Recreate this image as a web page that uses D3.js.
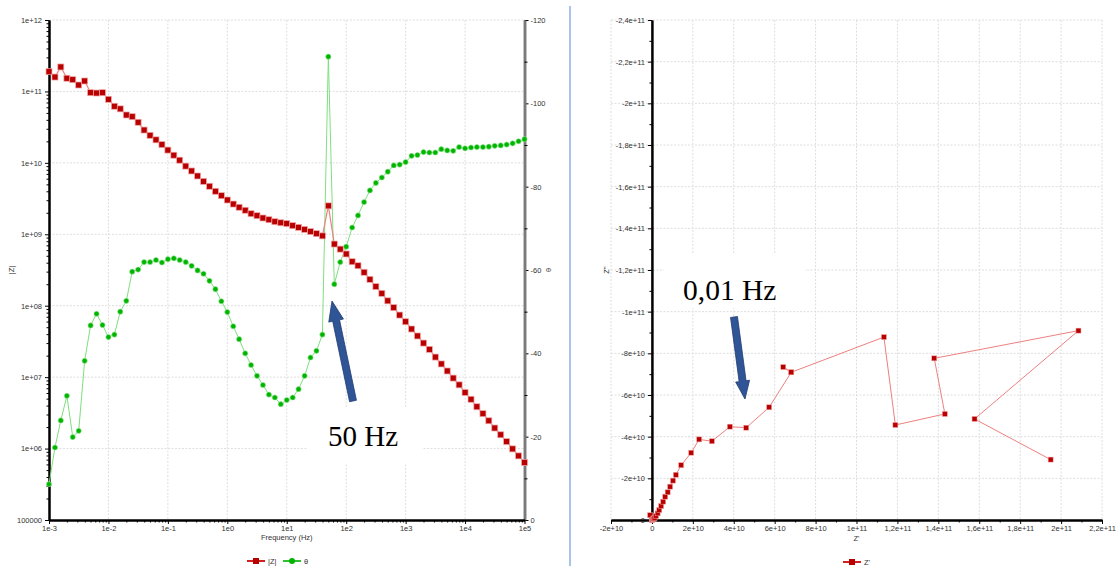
<!DOCTYPE html>
<html>
<head>
<meta charset="utf-8">
<script src="https://cdn.jsdelivr.net/npm/d3@7"></script>
<style>
body{margin:0;background:#fff;}
text{font-family:"Liberation Sans",Arial,sans-serif;}
</style>
</head>
<body>
<div id="chart"></div>
<script>
/////////////////////////////////////////////////////////////////
//////////////////////////// data ///////////////////////////////
/////////////////////////////////////////////////////////////////
var freq = [0.001,0.00126,0.00158,0.002,0.00251,0.00316,0.00398,0.00501,0.00631,0.00794,
	0.01,0.0126,0.0158,0.02,0.0251,0.0316,0.0398,0.0501,0.0631,0.0794,
	0.1,0.126,0.158,0.2,0.251,0.316,0.398,0.501,0.631,0.794,
	1,1.26,1.58,2,2.51,3.16,3.98,5.01,6.31,7.94,
	10,12.6,15.8,20,25.1,31.6,39.8,50.1,63.1,79.4,
	100,126,158,200,251,316,398,501,631,794,
	1000,1260,1580,2000,2510,3160,3980,5010,6310,7940,
	10000,12600,15800,20000,25100,31600,39800,50100,63100,79400,
	100000];

var zMag = [1.89e11,1.59e11,2.2e11,1.53e11,1.46e11,1.23e11,1.4e11,9.6e10,9.5e10,9.6e10,
	7.76e10,6.2e10,5.7e10,4.68e10,4.43e10,3.7e10,2.88e10,2.43e10,2.1e10,1.8e10,
	1.51e10,1.28e10,1.09e10,9.0e9,7.7e9,6.55e9,5.5e9,4.7e9,4.0e9,3.47e9,
	3.02e9,2.65e9,2.39e9,2.17e9,1.94e9,1.82e9,1.69e9,1.6e9,1.5e9,1.45e9,
	1.41e9,1.32e9,1.25e9,1.17e9,1.09e9,1.02e9,9.5e8,2.5e9,7.3e8,6.2e8,
	5.3e8,4.13e8,3.63e8,2.94e8,2.34e8,1.85e8,1.49e8,1.17e8,9.4e7,7.4e7,
	5.97e7,4.72e7,3.77e7,3.0e7,2.45e7,1.91e7,1.53e7,1.22e7,9.7e6,7.8e6,
	6.1e6,4.9e6,3.85e6,3.08e6,2.45e6,1.94e6,1.56e6,1.25e6,9.9e5,7.9e5,
	6.4e5];

var theta = [-8.6,-17.4,-23.9,-29.8,-19.9,-21.4,-38.2,-46.7,-49.5,-46.8,
	-43.9,-44.5,-50.0,-52.6,-59.6,-60.1,-61.9,-61.9,-62.4,-61.8,
	-62.6,-62.8,-62.4,-61.9,-61.0,-59.9,-59.1,-57.4,-55.4,-52.5,
	-49.9,-46.5,-43.4,-40.0,-37.2,-34.6,-32.4,-30.1,-29.4,-27.8,
	-28.8,-29.4,-31.4,-34.6,-39.0,-40.6,-44.5,-111.2,-56.6,-61.9,
	-65.6,-70.2,-73.1,-76.3,-79.1,-80.9,-82.2,-83.6,-85.1,-85.3,
	-85.9,-87.4,-87.6,-88.3,-88.2,-88.2,-89.0,-88.7,-88.6,-89.5,
	-89.2,-89.4,-89.5,-89.5,-89.6,-89.8,-89.9,-90.1,-90.4,-90.9,
	-91.4];

// Nyquist, high frequency (origin) -> low frequency
var nyqRe = [0,0.01e10,0.02e10,0.04e10,-0.09e10,0.07e10,0.10e10,0.13e10,0.20e10,0.28e10,
	0.36e10,0.45e10,0.55e10,0.65e10,0.77e10,0.89e10,1.03e10,1.17e10,1.43e10,1.92e10,
	2.31e10,2.93e10,3.81e10,4.61e10,5.73e10,6.81e10,6.42e10,6.81e10,11.34e10,11.9e10,
	14.32e10,13.8e10,20.85e10,15.77e10,19.49e10];
var nyqIm = [0,-0.01e10,-0.03e10,-0.06e10,-0.23e10,-0.07e10,-0.06e10,-0.10e10,-0.19e10,-0.32e10,
	-0.48e10,-0.67e10,-0.88e10,-1.12e10,-1.33e10,-1.60e10,-1.89e10,-2.17e10,-2.63e10,-3.23e10,
	-3.87e10,-3.78e10,-4.48e10,-4.43e10,-5.41e10,-7.09e10,-7.34e10,-7.09e10,-8.78e10,-4.56e10,
	-5.09e10,-7.76e10,-9.09e10,-4.85e10,-2.90e10];

var freqTicks = [1e-3,1e-2,1e-1,1,10,100,1e3,1e4,1e5];
var freqTickLabels = ["1e-3","1e-2","1e-1","1e0","1e1","1e2","1e3","1e4","1e5"];
var zTicks = [1e5,1e6,1e7,1e8,1e9,1e10,1e11,1e12];
var zTickLabels = ["100000","1e+06","1e+07","1e+08","1e+09","1e+10","1e+11","1e+12"];
var thetaTicks = [0,-20,-40,-60,-80,-100,-120];
var thetaTickLabels = ["0","-20","-40","-60","-80","-100","-120"];
var reTicks = [-2e10,0,2e10,4e10,6e10,8e10,1e11,1.2e11,1.4e11,1.6e11,1.8e11,2e11,2.2e11];
var reTickLabels = ["-2e+10","0","2e+10","4e+10","6e+10","8e+10","1e+11","1,2e+11","1,4e+11","1,6e+11","1,8e+11","2e+11","2,2e+11"];
var imTicks = [0,-2e10,-4e10,-6e10,-8e10,-1e11,-1.2e11,-1.4e11,-1.6e11,-1.8e11,-2e11,-2.2e11,-2.4e11];
var imTickLabels = ["0","-2e+10","-4e+10","-6e+10","-8e+10","-1e+11","-1,2e+11","-1,4e+11","-1,6e+11","-1,8e+11","-2e+11","-2,2e+11","-2,4e+11"];

/////////////////////////////////////////////////////////////////
/////////////////////////// layout //////////////////////////////
/////////////////////////////////////////////////////////////////
var W = 1119, H = 566;
var bode = {left:49, right:524.5, top:20, bottom:520};
var nyq = {left:611, right:1102, top:20, bottom:520};
var fontSize = 7.5;
var redDark = "#b80000", redLine = "#ee8080", greenDark = "#00b400", greenLine = "#7ee07e";
var gridColor = "#dedede";
var serif = "'Liberation Serif', 'Times New Roman', serif";

var svg = d3.select("#chart").append("svg")
	.attr("width", W).attr("height", H)
	.style("background", "#fff");

var xF = d3.scaleLog().domain([1e-3,1e5]).range([bode.left, bode.right]);
var yZ = d3.scaleLog().domain([1e5,1e12]).range([bode.bottom, bode.top]);
var yT = d3.scaleLinear().domain([0,-120]).range([bode.bottom, bode.top]);
var xN = d3.scaleLinear().domain([-2e10,2.2e11]).range([nyq.left, nyq.right]);
var yN = d3.scaleLinear().domain([0,-2.4e11]).range([nyq.bottom, nyq.top]);

function logMinor(decades){
	var out = [];
	decades.slice(0,-1).forEach(function(d){
		for(var k=2;k<10;k++) out.push(d*k);
	});
	return out;
}
function midTicks(t){
	var out = [];
	for(var i=0;i<t.length-1;i++) out.push((t[i]+t[i+1])/2);
	return out;
}

function styleAxis(g, color, width){
	g.attr("font-size", fontSize);
	g.select(".domain").attr("stroke", color).attr("stroke-width", width);
	g.selectAll(".tick line").attr("stroke", "#000");
	g.selectAll(".tick text").attr("fill", "#333");
}

/////////////////////////////////////////////////////////////////
///////////////////////////// grid //////////////////////////////
/////////////////////////////////////////////////////////////////
var grid = svg.append("g").attr("stroke", gridColor).attr("stroke-dasharray", "2,1.5").attr("stroke-width", 1);
grid.selectAll("line.bv").data(freqTicks.slice(1)).enter().append("line")
	.attr("x1", d => xF(d)).attr("x2", d => xF(d)).attr("y1", bode.top).attr("y2", bode.bottom);
grid.selectAll("line.bh").data(zTicks.slice(1)).enter().append("line")
	.attr("x1", bode.left).attr("x2", bode.right).attr("y1", d => yZ(d)).attr("y2", d => yZ(d));
grid.selectAll("line.nv").data(reTicks).enter().append("line")
	.attr("x1", d => xN(d)).attr("x2", d => xN(d)).attr("y1", nyq.top).attr("y2", nyq.bottom);
grid.selectAll("line.nh").data(imTicks.slice(1)).enter().append("line")
	.attr("x1", nyq.left).attr("x2", nyq.right).attr("y1", d => yN(d)).attr("y2", d => yN(d));

// white boxes behind the annotations
svg.append("rect").attr("x", 308).attr("y", 407).attr("width", 114).attr("height", 56).attr("fill", "#fff");
svg.append("rect").attr("x", 664).attr("y", 253).attr("width", 141).attr("height", 55).attr("fill", "#fff");

/////////////////////////////////////////////////////////////////
//////////////////////////// axes ///////////////////////////////
/////////////////////////////////////////////////////////////////
var gZ = svg.append("g").attr("transform", "translate(" + bode.left + ",0)")
	.call(d3.axisLeft(yZ).tickValues(zTicks).tickFormat((d,i) => zTickLabels[i]).tickSize(4).tickSizeOuter(0).tickPadding(3));
styleAxis(gZ, "#000", 2);
var gZm = svg.append("g").attr("transform", "translate(" + bode.left + ",0)")
	.call(d3.axisLeft(yZ).tickValues(logMinor(zTicks)).tickFormat("").tickSize(2.5).tickSizeOuter(0));
styleAxis(gZm, "#000", 2);

var gT = svg.append("g").attr("transform", "translate(" + bode.right + ",0)")
	.call(d3.axisRight(yT).tickValues(thetaTicks).tickFormat((d,i) => thetaTickLabels[i]).tickSize(4).tickSizeOuter(0).tickPadding(2));
styleAxis(gT, "#7a7a7a", 2.5);
var gTm = svg.append("g").attr("transform", "translate(" + bode.right + ",0)")
	.call(d3.axisRight(yT).tickValues(midTicks(thetaTicks)).tickFormat("").tickSize(3).tickSizeOuter(0));
styleAxis(gTm, "#7a7a7a", 2.5);

var gF = svg.append("g").attr("transform", "translate(0," + bode.bottom + ")")
	.call(d3.axisBottom(xF).tickValues(freqTicks).tickFormat((d,i) => freqTickLabels[i]).tickSize(4).tickSizeOuter(0).tickPadding(2));
styleAxis(gF, "#000", 2);
var gFm = svg.append("g").attr("transform", "translate(0," + bode.bottom + ")")
	.call(d3.axisBottom(xF).tickValues(logMinor(freqTicks)).tickFormat("").tickSize(2.5).tickSizeOuter(0));
styleAxis(gFm, "#000", 2);

var gNy = svg.append("g").attr("transform", "translate(" + xN(0) + ",0)")
	.call(d3.axisLeft(yN).tickValues(imTicks).tickFormat((d,i) => imTickLabels[i]).tickSize(4).tickSizeOuter(0).tickPadding(3));
styleAxis(gNy, "#000", 2);
var gNym = svg.append("g").attr("transform", "translate(" + xN(0) + ",0)")
	.call(d3.axisLeft(yN).tickValues(midTicks(imTicks)).tickFormat("").tickSize(2.5).tickSizeOuter(0));
styleAxis(gNym, "#000", 2);

var gNx = svg.append("g").attr("transform", "translate(0," + nyq.bottom + ")")
	.call(d3.axisBottom(xN).tickValues(reTicks).tickFormat((d,i) => reTickLabels[i]).tickSize(4).tickSizeOuter(0).tickPadding(2));
styleAxis(gNx, "#000", 2);
var gNxm = svg.append("g").attr("transform", "translate(0," + nyq.bottom + ")")
	.call(d3.axisBottom(xN).tickValues(midTicks(reTicks)).tickFormat("").tickSize(2.5).tickSizeOuter(0));
styleAxis(gNxm, "#000", 2);

// axis titles
function title(x, y, txt, rot){
	svg.append("text").attr("transform", "translate(" + x + "," + y + ")" + (rot ? " rotate(-90)" : ""))
		.attr("text-anchor", "middle").attr("font-size", fontSize).attr("fill", "#333").text(txt);
}
title(14, 270, "|Z|", true);
title(551, 270, "θ", true);
title((bode.left + bode.right)/2, 540, "Frequency (Hz)", false);
title(609, 270, "Z''", true);
title((nyq.left + nyq.right)/2, 541, "Z'", false);

/////////////////////////////////////////////////////////////////
//////////////////////////// series /////////////////////////////
/////////////////////////////////////////////////////////////////
var bodeData = freq.map((f,i) => ({f:f, z:zMag[i], t:theta[i]}));
var nyqData = nyqRe.map((r,i) => ({re:r, im:nyqIm[i]}));

svg.append("path").datum(bodeData)
	.attr("fill", "none").attr("stroke", greenLine).attr("stroke-width", 1)
	.attr("d", d3.line().x(d => xF(d.f)).y(d => yT(d.t)));
svg.selectAll("circle.th").data(bodeData).enter().append("circle")
	.attr("cx", d => xF(d.f)).attr("cy", d => yT(d.t)).attr("r", 2.6)
	.attr("fill", greenDark).attr("stroke", "#9ee89e").attr("stroke-width", 0.6);

svg.append("path").datum(bodeData)
	.attr("fill", "none").attr("stroke", redLine).attr("stroke-width", 1.2)
	.attr("d", d3.line().x(d => xF(d.f)).y(d => yZ(d.z)));
svg.selectAll("rect.z").data(bodeData).enter().append("rect")
	.attr("x", d => xF(d.f) - 3).attr("y", d => yZ(d.z) - 3).attr("width", 6).attr("height", 6)
	.attr("fill", redDark).attr("stroke", "#f2a8a8").attr("stroke-width", 0.7);

svg.append("path").datum(nyqData)
	.attr("fill", "none").attr("stroke", redLine).attr("stroke-width", 1)
	.attr("d", d3.line().x(d => xN(d.re)).y(d => yN(d.im)));
svg.selectAll("rect.n").data(nyqData).enter().append("rect")
	.attr("x", d => xN(d.re) - 2.5).attr("y", d => yN(d.im) - 2.5).attr("width", 5).attr("height", 5)
	.attr("fill", redDark).attr("stroke", "#f2a8a8").attr("stroke-width", 0.5);

/////////////////////////////////////////////////////////////////
//////////////////////////// legends ////////////////////////////
/////////////////////////////////////////////////////////////////
function legendItem(x, y, color, marker, label){
	svg.append("line").attr("x1", x).attr("x2", x + 18).attr("y1", y).attr("y2", y)
		.attr("stroke", color).attr("stroke-width", 2);
	if(marker == "square"){
		svg.append("rect").attr("x", x + 6).attr("y", y - 3).attr("width", 6).attr("height", 6).attr("fill", redDark);
	} else {
		svg.append("circle").attr("cx", x + 9).attr("cy", y).attr("r", 3).attr("fill", greenDark);
	}
	svg.append("text").attr("x", x + 21).attr("y", y + 2.5).attr("font-size", fontSize).attr("fill", "#333").text(label);
}
legendItem(247, 561, "#d02020", "square", "|Z|");
legendItem(283, 561, "#30c030", "circle", "θ");
legendItem(843, 562, "#d02020", "square", "Z'");

// separator between the two panels
svg.append("line").attr("x1", 570).attr("x2", 570).attr("y1", 6).attr("y2", H)
	.attr("stroke", "#a9c4ea").attr("stroke-width", 2);

/////////////////////////////////////////////////////////////////
////////////////////////// annotations //////////////////////////
/////////////////////////////////////////////////////////////////
function blockArrow(x1, y1, x2, y2, shaftW, headW, headL){
	var dx = x2 - x1, dy = y2 - y1, len = Math.sqrt(dx*dx + dy*dy);
	var ux = dx/len, uy = dy/len, px = -uy, py = ux;
	var bx = x2 - ux*headL, by = y2 - uy*headL;
	var pts = [
		[x1 + px*shaftW/2, y1 + py*shaftW/2],
		[bx + px*shaftW/2, by + py*shaftW/2],
		[bx + px*headW/2, by + py*headW/2],
		[x2, y2],
		[bx - px*headW/2, by - py*headW/2],
		[bx - px*shaftW/2, by - py*shaftW/2],
		[x1 - px*shaftW/2, y1 - py*shaftW/2]
	];
	svg.append("polygon").attr("points", pts.map(p => p.join(",")).join(" "))
		.attr("fill", "#2f5597").attr("stroke", "#1f3a6e").attr("stroke-width", 0.8);
}
blockArrow(353, 401, 332, 301, 7, 15, 20);
blockArrow(734, 317, 745, 399, 7, 14, 18);

svg.append("text").attr("x", 328).attr("y", 446).style("font-family", serif)
	.attr("font-size", 29).attr("fill", "#000").text("50 Hz");
svg.append("text").attr("x", 683).attr("y", 300).style("font-family", serif)
	.attr("font-size", 29.5).attr("fill", "#000").text("0,01 Hz");
</script>
</body>
</html>
